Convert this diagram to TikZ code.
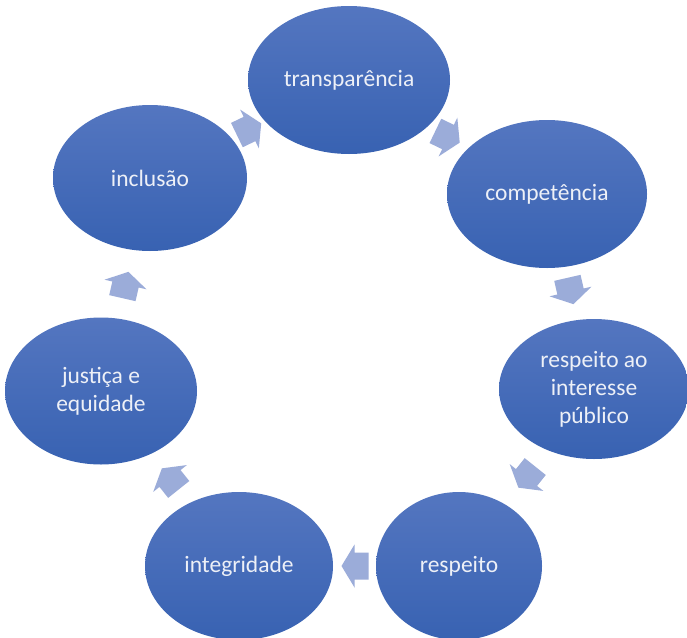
\documentclass[tikz,border=0pt]{standalone}
\usepackage{fontspec}
\setmainfont{Carlito}
\usetikzlibrary{shapes.geometric,calc}
\definecolor{nodetop}{HTML}{5476C0}
\definecolor{nodebot}{HTML}{3862B2}
\definecolor{arrowfill}{HTML}{9BACD9}
\definecolor{nodetext}{HTML}{EDF0F7}
\tikzset{
  cyclenode/.style={ellipse, inner sep=0pt, top color=nodetop, bottom color=nodebot,
    draw=none, text=nodetext, font=\fontsize{23.5}{28}\selectfont, align=center},
  blockarrow/.style={fill=arrowfill, draw=none}
}
\begin{document}
\begin{tikzpicture}[x=1pt,y=-1pt]
\fill[white] (0,0) rectangle (687,637);
\useasboundingbox (0,0) rectangle (687,637);

\node[cyclenode, minimum width=202pt, minimum height=148pt] (transp) at (349,80) {transparência};
\node[cyclenode, minimum width=200pt, minimum height=148pt] (comp) at (547,194) {competência};
\node[cyclenode, minimum width=190pt, minimum height=140pt] (raip) at (594,389) {respeito ao\\interesse\\público};
\node[cyclenode, minimum width=166pt, minimum height=148pt] (resp) at (459,566) {respeito};
\node[cyclenode, minimum width=188pt, minimum height=148pt] (integ) at (239,566) {integridade};
\node[cyclenode, minimum width=192pt, minimum height=147pt] (just) at (101,391) {justiça e\\equidade};
\node[cyclenode, minimum width=194pt, minimum height=146pt] (incl) at (150,178) {inclusão};

\coordinate (a1) at ($(incl)!0.5!(transp)$);
\coordinate (a2) at ($(transp)!0.5!(comp)$);
\coordinate (a3) at ($(comp)!0.5!(raip)$);
\coordinate (a4) at ($(raip)!0.5!(resp)$);
\coordinate (a5) at ($(integ.east)!0.5!(resp.west)$);
\coordinate (a6) at ($(integ)!0.5!(just)$);
\coordinate (a7) at ($(just)!0.5!(incl)$);

\foreach \c/\ang in {a1/25.7, a2/-25.7, a3/-77.1, a4/-128.6, a5/180, a6/128.6, a7/77.1}{
  \path[blockarrow, shift={(\c)}, rotate=\ang]
    (-14,-13.5) -- (0,-13.5) -- (0,-21.5) -- (13,0) -- (0,21.5) -- (0,13.5) -- (-14,13.5) -- cycle;
}
\end{tikzpicture}
\end{document}
